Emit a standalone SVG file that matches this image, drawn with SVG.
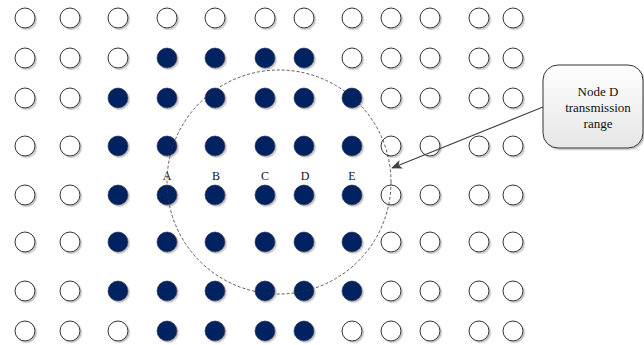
<svg xmlns="http://www.w3.org/2000/svg" width="644" height="345" viewBox="0 0 644 345">
<defs>
<filter id="sh" x="-50%" y="-50%" width="200%" height="200%">
<feDropShadow dx="1.5" dy="1.5" stdDeviation="0.7" flood-color="#9a9a9a" flood-opacity="0.6"/>
</filter>
<linearGradient id="bg" x1="0" y1="0" x2="0" y2="1">
<stop offset="0" stop-color="#ffffff"/>
<stop offset="1" stop-color="#e6e6e6"/>
</linearGradient>
<marker id="ah" viewBox="0 0 12 10" refX="11" refY="5" markerWidth="11" markerHeight="9" markerUnits="userSpaceOnUse" orient="auto">
<path d="M0,0 L12,5 L0,10 L3,5 Z" fill="#404040"/>
</marker>
</defs>
<style>
.off{fill:#ffffff;stroke:#333333;stroke-width:1;filter:url(#sh)}
.on{fill:#002060;stroke:#1a2a50;stroke-width:0.6;filter:url(#sh)}
.lbl{font-family:"Liberation Serif","Times New Roman",serif;font-size:12px;fill:#111111;text-anchor:middle}
.co{font-family:"Liberation Serif","Times New Roman",serif;font-size:13px;fill:#111111;text-anchor:middle}
.range{fill:none;stroke:#333333;stroke-width:0.8;stroke-dasharray:3,2}
.conn{stroke:#404040;stroke-width:1.1;fill:none}
</style>
<rect width="644" height="345" fill="#ffffff"/>
<g id="nodes">
<g id="n-0-0"><circle class="off" cx="25" cy="18" r="10"/></g>
<g id="n-0-1"><circle class="off" cx="70" cy="18" r="10"/></g>
<g id="n-0-2"><circle class="off" cx="118" cy="18" r="10"/></g>
<g id="n-0-3"><circle class="off" cx="167" cy="18" r="10"/></g>
<g id="n-0-4"><circle class="off" cx="215" cy="18" r="10"/></g>
<g id="n-0-5"><circle class="off" cx="265" cy="18" r="10"/></g>
<g id="n-0-6"><circle class="off" cx="304" cy="18" r="10"/></g>
<g id="n-0-7"><circle class="off" cx="352" cy="18" r="10"/></g>
<g id="n-0-8"><circle class="off" cx="391" cy="18" r="10"/></g>
<g id="n-0-9"><circle class="off" cx="430" cy="18" r="10"/></g>
<g id="n-0-10"><circle class="off" cx="479" cy="18" r="10"/></g>
<g id="n-0-11"><circle class="off" cx="513" cy="18" r="10"/></g>

<g id="n-1-0"><circle class="off" cx="25" cy="58" r="10"/></g>
<g id="n-1-1"><circle class="off" cx="70" cy="58" r="10"/></g>
<g id="n-1-2"><circle class="off" cx="118" cy="58" r="10"/></g>
<g id="n-1-3"><circle class="on" cx="167" cy="58" r="10"/></g>
<g id="n-1-4"><circle class="on" cx="215" cy="58" r="10"/></g>
<g id="n-1-5"><circle class="on" cx="265" cy="58" r="10"/></g>
<g id="n-1-6"><circle class="on" cx="304" cy="58" r="10"/></g>
<g id="n-1-7"><circle class="off" cx="352" cy="58" r="10"/></g>
<g id="n-1-8"><circle class="off" cx="391" cy="58" r="10"/></g>
<g id="n-1-9"><circle class="off" cx="430" cy="58" r="10"/></g>
<g id="n-1-10"><circle class="off" cx="479" cy="58" r="10"/></g>
<g id="n-1-11"><circle class="off" cx="513" cy="58" r="10"/></g>

<g id="n-2-0"><circle class="off" cx="25" cy="98" r="10"/></g>
<g id="n-2-1"><circle class="off" cx="70" cy="98" r="10"/></g>
<g id="n-2-2"><circle class="on" cx="118" cy="98" r="10"/></g>
<g id="n-2-3"><circle class="on" cx="167" cy="98" r="10"/></g>
<g id="n-2-4"><circle class="on" cx="215" cy="98" r="10"/></g>
<g id="n-2-5"><circle class="on" cx="265" cy="98" r="10"/></g>
<g id="n-2-6"><circle class="on" cx="304" cy="98" r="10"/></g>
<g id="n-2-7"><circle class="on" cx="352" cy="98" r="10"/></g>
<g id="n-2-8"><circle class="off" cx="391" cy="98" r="10"/></g>
<g id="n-2-9"><circle class="off" cx="430" cy="98" r="10"/></g>
<g id="n-2-10"><circle class="off" cx="479" cy="98" r="10"/></g>
<g id="n-2-11"><circle class="off" cx="513" cy="98" r="10"/></g>

<g id="n-3-0"><circle class="off" cx="25" cy="146" r="10"/></g>
<g id="n-3-1"><circle class="off" cx="70" cy="146" r="10"/></g>
<g id="n-3-2"><circle class="on" cx="118" cy="146" r="10"/></g>
<g id="n-3-3"><circle class="on" cx="167" cy="146" r="10"/></g>
<g id="n-3-4"><circle class="on" cx="215" cy="146" r="10"/></g>
<g id="n-3-5"><circle class="on" cx="265" cy="146" r="10"/></g>
<g id="n-3-6"><circle class="on" cx="304" cy="146" r="10"/></g>
<g id="n-3-7"><circle class="on" cx="352" cy="146" r="10"/></g>
<g id="n-3-8"><circle class="off" cx="391" cy="146" r="10"/></g>
<g id="n-3-9"><circle class="off" cx="430" cy="146" r="10"/></g>
<g id="n-3-10"><circle class="off" cx="479" cy="146" r="10"/></g>
<g id="n-3-11"><circle class="off" cx="513" cy="146" r="10"/></g>

<g id="n-4-0"><circle class="off" cx="25" cy="195" r="10"/></g>
<g id="n-4-1"><circle class="off" cx="70" cy="195" r="10"/></g>
<g id="n-4-2"><circle class="on" cx="118" cy="195" r="10"/></g>
<g id="n-4-3"><circle class="on" cx="167" cy="195" r="10"/></g>
<g id="n-4-4"><circle class="on" cx="215" cy="195" r="10"/></g>
<g id="n-4-5"><circle class="on" cx="265" cy="195" r="10"/></g>
<g id="n-4-6"><circle class="on" cx="304" cy="195" r="10"/></g>
<g id="n-4-7"><circle class="on" cx="352" cy="195" r="10"/></g>
<g id="n-4-8"><circle class="off" cx="391" cy="195" r="10"/></g>
<g id="n-4-9"><circle class="off" cx="430" cy="195" r="10"/></g>
<g id="n-4-10"><circle class="off" cx="479" cy="195" r="10"/></g>
<g id="n-4-11"><circle class="off" cx="513" cy="195" r="10"/></g>

<g id="n-5-0"><circle class="off" cx="25" cy="242" r="10"/></g>
<g id="n-5-1"><circle class="off" cx="70" cy="242" r="10"/></g>
<g id="n-5-2"><circle class="on" cx="118" cy="242" r="10"/></g>
<g id="n-5-3"><circle class="on" cx="167" cy="242" r="10"/></g>
<g id="n-5-4"><circle class="on" cx="215" cy="242" r="10"/></g>
<g id="n-5-5"><circle class="on" cx="265" cy="242" r="10"/></g>
<g id="n-5-6"><circle class="on" cx="304" cy="242" r="10"/></g>
<g id="n-5-7"><circle class="on" cx="352" cy="242" r="10"/></g>
<g id="n-5-8"><circle class="off" cx="391" cy="242" r="10"/></g>
<g id="n-5-9"><circle class="off" cx="430" cy="242" r="10"/></g>
<g id="n-5-10"><circle class="off" cx="479" cy="242" r="10"/></g>
<g id="n-5-11"><circle class="off" cx="513" cy="242" r="10"/></g>

<g id="n-6-0"><circle class="off" cx="25" cy="291" r="10"/></g>
<g id="n-6-1"><circle class="off" cx="70" cy="291" r="10"/></g>
<g id="n-6-2"><circle class="on" cx="118" cy="291" r="10"/></g>
<g id="n-6-3"><circle class="on" cx="167" cy="291" r="10"/></g>
<g id="n-6-4"><circle class="on" cx="215" cy="291" r="10"/></g>
<g id="n-6-5"><circle class="on" cx="265" cy="291" r="10"/></g>
<g id="n-6-6"><circle class="on" cx="304" cy="291" r="10"/></g>
<g id="n-6-7"><circle class="on" cx="352" cy="291" r="10"/></g>
<g id="n-6-8"><circle class="off" cx="391" cy="291" r="10"/></g>
<g id="n-6-9"><circle class="off" cx="430" cy="291" r="10"/></g>
<g id="n-6-10"><circle class="off" cx="479" cy="291" r="10"/></g>
<g id="n-6-11"><circle class="off" cx="513" cy="291" r="10"/></g>

<g id="n-7-0"><circle class="off" cx="25" cy="331" r="10"/></g>
<g id="n-7-1"><circle class="off" cx="70" cy="331" r="10"/></g>
<g id="n-7-2"><circle class="off" cx="118" cy="331" r="10"/></g>
<g id="n-7-3"><circle class="on" cx="167" cy="331" r="10"/></g>
<g id="n-7-4"><circle class="on" cx="215" cy="331" r="10"/></g>
<g id="n-7-5"><circle class="on" cx="265" cy="331" r="10"/></g>
<g id="n-7-6"><circle class="on" cx="304" cy="331" r="10"/></g>
<g id="n-7-7"><circle class="off" cx="352" cy="331" r="10"/></g>
<g id="n-7-8"><circle class="off" cx="391" cy="331" r="10"/></g>
<g id="n-7-9"><circle class="off" cx="430" cy="331" r="10"/></g>
<g id="n-7-10"><circle class="off" cx="479" cy="331" r="10"/></g>
<g id="n-7-11"><circle class="off" cx="513" cy="331" r="10"/></g>
</g>
<g id="labels">
<text class="lbl" x="167" y="180">A</text>
<text class="lbl" x="216" y="180">B</text>
<text class="lbl" x="265" y="180">C</text>
<text class="lbl" x="305" y="180">D</text>
<text class="lbl" x="352" y="180">E</text>
</g>
<g id="range">
<circle class="range" cx="279" cy="182" r="112"/>
</g>
<g id="callout">
<rect x="543" y="65" width="100" height="83" rx="15" ry="15" fill="url(#bg)" stroke="#333333" stroke-width="1" filter="url(#sh)"/>
<text class="co" x="598" y="96">Node D</text>
<text class="co" x="598" y="112">transmission</text>
<text class="co" x="598" y="128">range</text>
</g>
<g id="connectors">
<line class="conn" x1="543" y1="107" x2="392" y2="168" marker-end="url(#ah)"/>
</g>
</svg>
